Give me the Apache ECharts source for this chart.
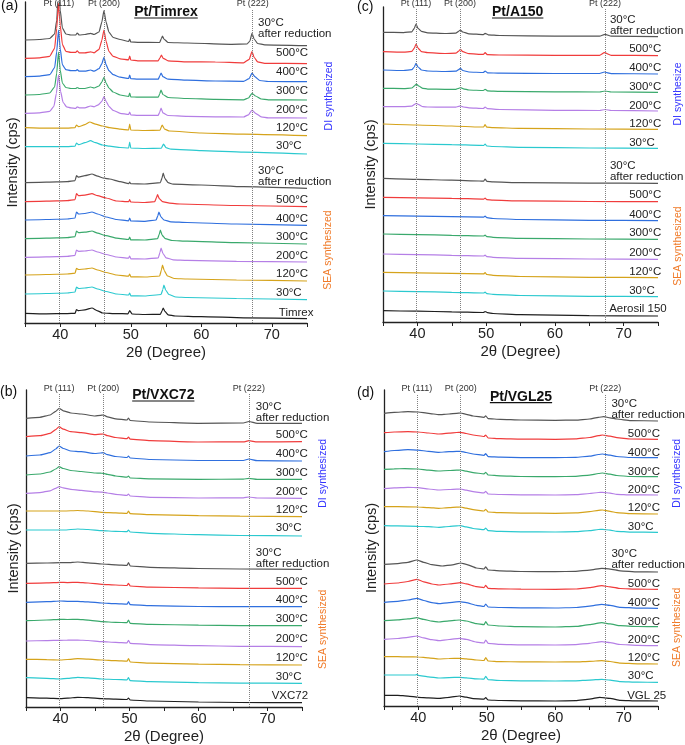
<!DOCTYPE html>
<html><head><meta charset="utf-8">
<script src="https://cdn.jsdelivr.net/npm/echarts/dist/echarts.min.js"></script>
<style>html,body{margin:0;padding:0;background:#fff}#c{width:685px;height:745px}</style>
</head><body><div id="c"></div>
<script>
// ---------------- DATA (2θ in degrees, intensity in a.u.) ----------------
const ptPeaks = [39.8, 46.2, 67.3];
const ptNames = ['Pt (111)', 'Pt (200)', 'Pt (222)'];
const tempNames = ['30°C\nafter reduction', '500°C', '400°C', '300°C', '200°C', '120°C', '30°C'];

// ---- (a) Pt/Timrex ----
const timrexOffsets = [283, 264.7, 246.3, 228, 209.7, 195.3, 176.3, 140.3, 121.3, 103, 84.3, 65.7, 48, 29, 9.7];
const a_DI_AR = [[35,0],[37,0.5],[38.5,1.5],[39.2,6],[39.5,20],[39.75,50],[40.0,30],[40.3,12],[40.8,6],[41.5,5],[42.2,5],[42.4,7],[42.7,5],[43.5,5.5],[44.3,6.7],[44.8,5.5],[45.5,8],[45.9,18],[46.2,29.3],[46.5,18],[46.9,8],[47.5,2.5],[48.5,0.5],[49.7,-1.5],[49.85,1],[50.0,-2],[51,-2.3],[54.1,-2.5],[54.35,1.5],[54.5,4],[54.7,1],[55.3,-2.5],[58,-3],[64.3,-4.3],[66.5,-4],[66.9,-1],[67.2,6.7],[67.5,1],[68,-3.5],[69,-4.8],[75,-5.7]];
const a_DI_500 = [[35,0],[37,0.5],[38.5,2],[39.2,10],[39.5,30],[39.75,55],[40.0,33],[40.3,14],[40.8,7],[41.5,6],[42.2,6],[42.4,7.5],[42.7,5.5],[43.5,5.5],[44.3,6.5],[44.8,5.5],[45.5,9],[45.9,18],[46.2,28.3],[46.5,17],[46.9,7],[47.5,2],[48.5,-0.5],[49.7,-1.5],[49.85,2.3],[50.0,-1.7],[51,-2.5],[53.9,-2.5],[54.15,0.5],[54.35,3.3],[54.6,0],[55.3,-2.5],[58,-3.5],[62,-3.7],[66,-4.5],[66.8,-1],[67.2,6.6],[67.5,1],[68,-3.5],[69,-5],[75,-5.4]];
const a_DI_400 = [[35,0],[37,0.5],[38.5,2],[39.2,9],[39.5,25],[39.75,46.7],[40.0,28],[40.3,12],[40.8,7],[41.5,6],[42.2,6],[42.4,7],[42.7,5.5],[43.5,5.5],[44.3,6.7],[44.8,5.5],[45.5,8],[45.9,13],[46.2,19.4],[46.5,12],[46.9,6],[47.5,2],[48.5,-0.5],[49.7,-1.8],[49.85,1.7],[50,-2],[51,-2.5],[53.9,-2.5],[54.1,0.5],[54.3,3.7],[54.55,0],[55.3,-2.5],[58,-3.5],[62,-4.3],[66,-4.6],[66.8,-2],[67.2,3.7],[67.6,0],[68.3,-3.8],[69.5,-4.8],[75,-5]];
const a_DI_300 = [[35,0],[37,0.5],[38.5,2],[39.2,8],[39.5,22],[39.75,43],[40.0,25],[40.3,12],[40.8,7.5],[41.5,6.5],[42.2,6.5],[42.4,7.5],[42.7,6.5],[43.5,6.5],[44.3,8],[44.8,7],[45.5,9],[45.9,13],[46.2,17.7],[46.5,12],[46.9,7],[47.5,3],[48.5,0],[49.7,-1.5],[49.85,2],[50,-1.8],[51,-2.2],[53.9,-2.2],[54.1,1],[54.3,5],[54.55,0.5],[55.3,-2.5],[58,-3.5],[62,-4.3],[66,-4.8],[66.7,-3],[67.2,1.7],[67.7,-1],[68.5,-4],[69.5,-4.8],[75,-5]];
const a_DI_200 = [[35,0],[37,0.5],[38.5,2],[39.1,7],[39.45,20],[39.75,38.3],[40.05,22],[40.4,11],[40.9,6.5],[41.5,5.5],[42.2,5],[42.4,6.5],[42.7,5.5],[43.5,5.5],[44.3,7.3],[44.8,6.5],[45.4,8.5],[45.9,12],[46.2,16.6],[46.5,12],[46.9,7],[47.5,3],[48.5,0],[49.7,-1.2],[49.85,1.3],[50,-1.5],[51,-2],[53.9,-2],[54.1,1],[54.3,5.3],[54.55,0.5],[55.3,-2.2],[58,-3],[62,-3.5],[66,-3.7],[66.7,-1.5],[67.2,3.3],[67.7,0],[68.5,-3.5],[69.5,-4.5],[75,-4.7]];
const a_DI_120 = [[35,0],[38,-0.5],[41,-0.5],[42.1,0],[42.3,2.7],[42.6,1],[43.5,3],[44.2,5.7],[45,3.5],[46,1.7],[47,0],[48.5,-1.5],[49.7,-2.3],[49.85,3.7],[50,-2.3],[52,-2.8],[54.15,-2.5],[54.45,2.7],[54.8,-1.5],[55.5,-3.3],[60,-5.3],[66,-6.5],[75,-8]];
const a_DI_30 = [[35,0],[38,0],[41,0],[42.1,0.5],[42.3,3.7],[42.6,2],[43.5,4],[44.3,6],[45,4],[46,1.7],[47,0.5],[48.5,-0.8],[49.7,-1.3],[49.85,4.7],[50,-1.3],[52,-1.8],[54.35,-1.5],[54.65,2.7],[55,-1],[55.7,-2.5],[60,-4],[66,-5.5],[75,-7.3]];
const a_SEA_AR = [[35,0],[38,0.5],[41,1],[42.1,2],[42.3,7],[42.6,5.5],[43.5,7],[44.5,8.7],[45.3,6.5],[46.2,4.5],[47,3.7],[48.5,1],[49.7,-1],[49.85,0.5],[50,-1],[52,-1.3],[54.2,0],[54.45,5],[54.6,9.7],[54.85,4],[55.3,0],[56,-1.5],[60,-2.3],[66,-4],[75,-5.6]];
const a_SEA_500 = [[35,0],[38,0.5],[41,1],[42.1,2],[42.3,8],[42.6,6],[43.5,6.5],[44.5,8],[45.3,6],[46.5,3.7],[48,0.7],[49.7,0],[49.85,2],[50,-0.3],[52,-0.8],[53.4,0],[53.65,4],[53.8,7],[54.05,3],[54.5,0],[55.5,-1.5],[57,-2.3],[65,-3.8],[75,-5]];
const a_SEA_400 = [[35,0],[38,0.5],[41,1],[42.1,2],[42.3,8],[42.6,6],[43.5,6.5],[44.5,8],[45.3,6],[46.5,3],[48,0.5],[49.7,-0.8],[49.85,2],[50,-1],[52,-1.3],[53.6,0],[53.85,4.5],[54.0,8],[54.25,3.5],[54.7,0],[55.7,-1.8],[58,-2.5],[65,-4],[75,-5.3]];
const a_SEA_300 = [[35,0],[38,0.5],[41,1],[42.1,2],[42.3,7.7],[42.6,6],[43.5,6.5],[44.5,7.7],[45.3,5.5],[46.5,3],[48,0.5],[49.7,-0.8],[49.85,1.7],[50,-1.2],[52,-1.3],[53.8,0],[54.05,4.5],[54.2,8.7],[54.45,3.5],[54.9,0],[55.9,-1.8],[58,-2.5],[65,-4],[75,-5.3]];
const a_SEA_200 = [[35,0],[38,0.5],[41,1],[42.1,2],[42.3,7.3],[42.6,6],[43.5,6.3],[44.5,7.3],[45.3,5.3],[46.5,2.8],[48,0.3],[49.7,-0.8],[49.85,1.3],[50,-1.5],[52,-1.7],[53.9,-0.5],[54.15,5],[54.3,9.3],[54.55,4],[55,-0.5],[56,-2.5],[58,-3],[65,-4],[75,-4.7]];
const a_SEA_120 = [[35,0],[38,0.5],[41,1],[42.1,1.8],[42.3,6.7],[42.6,5.5],[43.5,6],[44.5,7],[45.3,5],[46.5,2.5],[48,0],[49.7,-1.2],[49.85,1],[50,-1.8],[52,-2],[54.1,-1],[54.35,5],[54.5,10],[54.75,4.5],[55.2,-1],[56.2,-3.5],[58,-4],[65,-5],[75,-6]];
const a_SEA_30 = [[35,0],[38,0.5],[41,1],[42.1,2],[42.3,7],[42.6,5.5],[43.5,6],[44.5,7],[45.3,5],[46.5,2.5],[48,0],[49.7,-1],[49.85,1],[50,-1.8],[52,-2],[54.3,-0.5],[54.55,4.5],[54.7,9],[54.95,4],[55.4,-0.5],[56.4,-3],[58,-3.5],[65,-4.5],[75,-5.7]];
const a_Timrex = [[35,0],[38,-0.5],[41,-0.3],[42.1,0],[42.3,3.6],[42.6,2.6],[43.5,3.5],[44.5,5.3],[45.3,2.5],[46,0.3],[48,-0.3],[49.6,-0.5],[49.85,2.6],[50.2,-0.7],[52,-1.2],[54.2,-1],[54.45,2.5],[54.6,5.3],[54.85,2],[55.3,-1.5],[56.3,-2.7],[60,-3.3],[66,-4.5],[75,-5.4]];

// ---- (c) Pt/A150 ----
const a150Offsets = [289.7, 270.3, 252, 233.7, 215.3, 198, 178.7, 143.7, 124.7, 106.3, 88, 68, 49.7, 31, 11.3];
const c_DI_AR = [[35,0],[38,-0.3],[39.2,0.5],[39.55,4],[39.8,8.3],[40.1,4],[40.6,1],[41.5,-0.5],[44,-1.2],[45.6,-0.8],[46.0,1],[46.25,2.3],[46.6,0.3],[47.5,-1.5],[49.6,-2.3],[49.85,-1],[50.3,-2.5],[52,-3.2],[60,-3.8],[66.5,-3.8],[67.3,-2],[68.2,-3.8],[75,-4.4]];
const c_DI_500 = [[35,0],[38,-0.5],[39.2,0.3],[39.55,3.5],[39.8,7.7],[40.1,3.5],[40.6,0],[41.5,-1],[44,-1.8],[45.6,-1.5],[46.0,0.5],[46.25,2.4],[46.6,0],[47.5,-2],[49.6,-2.7],[49.85,-1],[50.2,-3],[52,-3.3],[60,-3.6],[66.5,-3.6],[67.2,-1],[68.2,-3.6],[75,-4]];
const c_DI_400 = [[35,0],[38,-0.5],[39.2,0.3],[39.55,3],[39.8,6.7],[40.1,3],[40.6,0],[41.5,-1],[44,-1.5],[45.6,-1.2],[46.0,0.3],[46.25,1.7],[46.6,-0.5],[47.5,-2],[49.6,-2.5],[49.85,-1],[50.2,-2.8],[52,-3.2],[60,-3.5],[66.5,-3.5],[67.2,-2],[68.2,-3.6],[75,-4]];
const c_DI_300 = [[35,0],[38,-0.3],[39.2,0.3],[39.6,2.5],[39.85,4.3],[40.2,2.3],[40.8,0],[41.5,-0.8],[44,-1],[45.6,-1],[46.0,0],[46.3,0.6],[46.7,-0.5],[47.5,-1.7],[49.6,-2.2],[49.85,-1],[50.2,-2.5],[52,-3],[60,-3.5],[66.5,-3.7],[67.3,-2.7],[68.2,-3.7],[75,-4]];
const c_DI_200 = [[35,0],[38,0],[39.2,0.5],[39.6,2.3],[39.85,3.4],[40.2,2],[40.8,0],[41.5,-0.3],[44,-0.5],[45.6,-0.5],[46.0,0.3],[46.3,0.7],[46.7,-0.3],[47.5,-1.2],[49.6,-1.8],[49.85,-0.3],[50.2,-2],[52,-2.8],[60,-3.6],[66.5,-3.8],[67.3,-2.8],[68.2,-3.8],[75,-4.3]];
const c_DI_120 = [[35,0],[40,-1],[45,-2],[49,-3],[49.65,-3],[49.85,-0.7],[50.1,-3.2],[51,-3.6],[55,-4.4],[65,-5],[75,-5.3]];
const c_DI_30 = [[35,0],[40,-0.7],[45,-1.3],[49,-2],[49.65,-2.2],[49.85,-0.7],[50.1,-2.7],[51,-3.2],[55,-4],[65,-4.7],[75,-5]];
const c_SEA_AR = [[35,0],[40,-1],[45,-1.9],[49,-2.7],[49.65,-2.8],[49.85,-0.7],[50.1,-3],[51,-3.6],[55,-4.4],[65,-4.8],[75,-5]];
const c_SEA_500 = [[35,0],[40,-0.5],[45,-1],[49.65,-1.8],[49.85,-0.8],[50.1,-2.3],[51,-2.9],[55,-3.6],[65,-4.2],[75,-4.4]];
const c_SEA_400 = [[35,0],[40,-0.4],[45,-0.9],[49.65,-1.5],[49.85,-0.3],[50.1,-2],[51,-2.8],[55,-3.8],[65,-4.6],[75,-5]];
const c_SEA_300 = [[35,0],[40,-0.6],[45,-1.3],[49.65,-2],[49.85,-1],[50.1,-2.6],[51,-3.3],[55,-4.3],[65,-5],[75,-5.3]];
const c_SEA_200 = [[35,0],[40,-0.6],[45,-1.3],[49.65,-2],[49.85,-1],[50.1,-2.6],[51,-3.3],[55,-4.3],[65,-5],[75,-5.3]];
const c_SEA_120 = [[35,0],[40,-0.5],[45,-1.1],[49.65,-1.6],[49.85,-0.3],[50.1,-2.2],[51,-3],[55,-4.2],[65,-5],[75,-5.4]];
const c_SEA_30 = [[35,0],[40,-0.6],[45,-1.3],[49.65,-2],[49.85,-1],[50.1,-2.6],[51,-3.4],[55,-4.5],[65,-5.3],[75,-5.7]];
const c_Aerosil = [[35,0],[40,-0.5],[45,-1.1],[49.6,-1.8],[49.85,-0.8],[50.2,-2],[51,-2.8],[55,-4],[65,-5],[75,-5.3]];

// ---- (b) Pt/VXC72 ----
const vxcOffsets = [288.7, 270.3, 251, 232, 213.7, 196, 177, 143.7, 123.7, 104.7, 86.3, 66, 47.7, 29.3, 9.3];
const b_DI_AR = [[35,0],[37,1],[38.5,3.3],[39.3,7],[39.8,10],[40.4,7.5],[41.5,5.3],[43,4.3],[45,2.3],[45.8,3],[46.2,3.3],[46.8,1.5],[48,-0.5],[49.65,-1.7],[49.85,0.3],[50.1,-2.2],[53,-3.7],[60,-5],[66.5,-4.7],[67.3,-3.2],[68.5,-5],[75,-5]];
const b_DI_500 = [[35,0],[37,1],[38.5,3.3],[39.3,7],[39.8,10],[40.4,7.5],[41.5,5],[43,4],[45,2],[45.8,2.5],[46.2,2.7],[46.8,1],[48,-0.8],[49.65,-2],[49.85,-0.3],[50.1,-2.5],[53,-4],[60,-5.3],[66.5,-5.2],[67.3,-4],[68.5,-5.2],[75,-5]];
const b_DI_400 = [[35,0],[37,1],[38.5,3.3],[39.3,7],[39.8,10],[40.4,7.5],[41.5,5],[43,4.3],[45,2.5],[45.8,3],[46.2,3.3],[46.8,1.3],[48,-0.5],[49.65,-1.5],[49.85,0],[50.1,-2],[53,-3.5],[60,-4.5],[66.5,-4.5],[67.3,-3],[68.5,-4.7],[75,-5]];
const b_DI_300 = [[35,0],[37,1],[38.5,3],[39.3,6],[39.8,8.3],[40.4,6.5],[41.5,4.5],[43,3.5],[45,2],[45.8,1.8],[46.2,1.7],[46.8,0.7],[48,-1],[49.65,-2.2],[49.85,-1],[50.1,-3],[53,-3.8],[60,-4.3],[66.5,-4.2],[67.3,-3.3],[68.5,-4.3],[75,-4.3]];
const b_DI_200 = [[35,0],[37,0.7],[38.5,2.5],[39.3,5],[39.8,6.6],[40.4,5.5],[41.5,4],[43,3],[45,1.5],[45.8,1.2],[46.2,1],[46.8,0.3],[48,-1],[49.65,-2],[49.85,-0.7],[50.1,-2.7],[53,-4],[60,-4.7],[66.5,-4.6],[67.3,-3.7],[68.5,-4.7],[75,-5]];
const b_DI_120 = [[35,0],[38,0],[40.5,0],[42.5,0.5],[44,0],[46,-1.3],[48,-1.8],[49.65,-2.3],[49.85,0],[50.1,-2.7],[53,-3.7],[60,-4.7],[66,-5.2],[75,-5.7]];
const b_DI_30 = [[35,0],[38,0],[40.5,0],[42.5,1],[44,0.5],[46,-0.7],[48,-1.3],[49.65,-1.7],[49.85,0],[50.1,-2],[53,-3.3],[60,-4.7],[66,-5.5],[75,-6]];
const b_SEA_AR = [[35,0],[38,0.3],[40,0.6],[41,0.6],[42.5,1.3],[44,0.5],[46,-0.7],[48,-1.5],[49.65,-2],[49.85,0.6],[50.1,-2.7],[53,-4],[60,-5.2],[66,-5.7],[75,-6]];
const b_SEA_500 = [[35,0],[38,0.5],[40,1],[41,0.7],[42.5,1],[44,0.3],[46,-1],[48,-1.7],[49.65,-2.2],[49.85,0],[50.1,-2.7],[53,-3.8],[60,-4.6],[66,-5],[75,-5]];
const b_SEA_400 = [[35,0],[38,0.6],[40,1.3],[41,1],[42.5,1],[44,0.4],[46,-0.7],[48,-1.3],[49.65,-1.8],[49.85,0.6],[50.1,-2.4],[53,-3.4],[60,-4.2],[66,-4.4],[75,-4.4]];
const b_SEA_300 = [[35,0],[38,0.7],[40,1.4],[41,1.2],[42.5,1.4],[44,0.6],[46,-1],[48,-1.6],[49.65,-2],[49.85,0.7],[50.1,-2.6],[53,-3.6],[60,-4.5],[66,-4.9],[75,-5]];
const b_SEA_200 = [[35,0],[38,0.4],[40,0.7],[41,0.8],[42.5,1],[44,0.5],[46,-0.7],[48,-1.3],[49.65,-1.8],[49.85,0.7],[50.1,-2.3],[53,-3.6],[60,-4.7],[66,-5.3],[75,-5.7]];
const b_SEA_120 = [[35,0],[38,-0.3],[40,-0.7],[41,-0.2],[42.5,0.6],[44,0.2],[46,-0.7],[48,-1.3],[49.65,-1.8],[49.85,0.6],[50.1,-2.7],[53,-3.8],[60,-4.8],[66,-5.4],[75,-5.7]];
const b_SEA_30 = [[35,0],[38,-0.6],[40,-1.3],[41,-0.7],[42.5,0.4],[44,-0.2],[46,-1.3],[48,-1.8],[49.65,-2.2],[49.85,0],[50.1,-3],[53,-4],[60,-4.9],[66,-5.4],[75,-5.6]];
const b_VXC72 = [[35,0],[38,-0.5],[40,-1],[41,-0.5],[42.5,0.4],[44,0],[46,-1],[48,-1.5],[49.65,-1.8],[49.85,-0.3],[50.1,-2.3],[53,-3.3],[60,-4.3],[66,-4.8],[75,-5]];

// ---- (d) Pt/VGL25 ----
const vglOffsets = [292.7, 273.3, 254.3, 236.7, 217.3, 199.3, 180.3, 141.7, 122, 103.7, 85.3, 66.7, 49.3, 31, 10.7];
const d_DI_AR = [[35,0],[36.5,1],[38.5,1.6],[40,1.3],[41.5,0],[43,-1.4],[44.5,-0.7],[45.6,0],[46.2,0.3],[47,-1],[48,-2.7],[49.6,-4],[49.85,-2.5],[50.2,-5.4],[52,-6],[55,-6.7],[60,-7],[63,-6.8],[65,-5.7],[66.3,-4],[67.1,-3.4],[68,-4.5],[69,-5.7],[71,-7.3],[75,-7.7]];
const d_DI_500 = [[35,0],[36.5,0.7],[38.5,1],[40,0.7],[41.5,-0.3],[43,-1.3],[44.5,-0.5],[45.6,0.2],[46.2,0.4],[47,-0.8],[48,-2.3],[49.6,-3.8],[49.85,-2.3],[50.2,-5.3],[52,-5.9],[55,-6.4],[60,-6.6],[63,-6.2],[65,-4.8],[66.3,-3],[66.9,-2.3],[68,-3.5],[69,-5],[71,-6.3],[75,-6.6]];
const d_DI_400 = [[35,0],[36.5,1.2],[38.5,2],[40,1.6],[41.5,0.3],[43,-0.6],[44.5,0],[45.6,0.3],[46.2,0.4],[47,-0.8],[48,-2.3],[49.6,-3.6],[49.85,-2],[50.2,-5],[52,-5.5],[55,-5.9],[60,-6],[63,-5.6],[65,-4.5],[66.3,-2.8],[66.9,-2.3],[68,-3.5],[69,-4.8],[71,-5.8],[75,-6]];
const d_DI_300 = [[35,0],[36.5,0.5],[38,0.6],[40,0.3],[41.5,-0.8],[43,-1.7],[44.5,-1.2],[45.6,-0.8],[46.2,-0.7],[47,-1.8],[48,-3.3],[49.6,-4.6],[49.85,-3],[50.2,-5.7],[52,-6.5],[55,-7.2],[60,-7.4],[63,-7],[65,-5.8],[66.3,-4.2],[66.9,-3.7],[68,-4.8],[69,-6.2],[71,-7.2],[75,-7.4]];
const d_DI_200 = [[35,0],[36.5,0.9],[38.5,1.4],[40,1],[41.5,-0.3],[43,-1.3],[44.5,-0.8],[45.6,-0.4],[46.2,-0.3],[47,-1.5],[48,-3],[49.6,-4.2],[49.85,-2.7],[50.2,-5.3],[52,-5.8],[55,-6.2],[60,-6.3],[63,-5.9],[65,-4.8],[66.3,-3.8],[66.9,-3.6],[68,-4.5],[69,-5.6],[71,-6.2],[75,-6.3]];
const d_DI_120 = [[35,0],[37,0],[40,-0.3],[41.5,-0.9],[43,-1.6],[44.5,-1],[45.6,-0.4],[46.2,-0.3],[47,-1.5],[48,-3],[49.6,-4.3],[49.85,-2.6],[50.2,-5.3],[52,-6],[55,-6.4],[60,-6.6],[63,-6.2],[65,-5],[66.3,-3.6],[66.9,-3.3],[68,-4.6],[69,-6],[71,-7],[75,-7.3]];
const d_DI_30 = [[35,0],[37,-0.2],[40,-0.6],[41.5,-1],[43,-1.6],[44.5,-0.8],[45.6,-0.1],[46.2,0],[47,-1.2],[48,-2.8],[49.6,-4],[49.85,-2.3],[50.2,-5],[52,-5.7],[55,-6.1],[60,-6.3],[63,-5.9],[65,-4.9],[66.3,-3.8],[66.9,-3.6],[68,-4.5],[69,-5.6],[71,-6.4],[75,-6.6]];
const d_SEA_AR = [[35,0],[37,0.7],[38.5,2],[39.8,4.3],[40.8,2],[42,-0.4],[43.5,-1.7],[45,-0.5],[46.2,1.3],[47,0],[48.5,-3.7],[49.6,-4.7],[49.85,-2.5],[50.2,-5.7],[52,-6.6],[55,-7.2],[60,-7.4],[63,-7],[65,-5.8],[66.8,-4],[68,-4.8],[69.5,-6.5],[72,-7.5],[75,-7.7]];
const d_SEA_500 = [[35,0],[37,1],[38.5,2.5],[39.8,4.7],[40.8,2.2],[42,0],[43,-1],[44.5,0],[46.2,1.3],[47,0.2],[48.5,-2.7],[49.6,-3.6],[49.85,-1.3],[50.2,-4.3],[52,-4.8],[55,-5.2],[60,-5.3],[63,-5],[65,-3.6],[66.8,-1.7],[68,-2.8],[69.5,-4.5],[72,-5.2],[75,-5.3]];
const d_SEA_400 = [[35,0],[37,1],[38.5,2.3],[39.8,4],[40.8,1.8],[42,-0.4],[43,-1.4],[44.5,-0.3],[46,0.6],[47,-0.3],[48.5,-3],[49.6,-4.2],[49.85,-1.7],[50.2,-4.7],[52,-5.2],[55,-5.6],[60,-5.7],[63,-5.2],[65,-3.8],[66.8,-2],[68,-3],[69.5,-5],[72,-5.8],[75,-6]];
const d_SEA_300 = [[35,0],[37,0.8],[38.5,1.8],[39.8,3],[40.8,1.3],[42,-0.4],[43,-1.3],[44.5,-0.2],[46,0.7],[47,-0.3],[48.5,-3],[49.6,-4],[49.85,-1],[50.2,-4.3],[52,-5.3],[55,-6],[60,-6.3],[63,-5.7],[65,-4],[66.8,-2],[68,-3.2],[69.5,-5],[72,-5.8],[75,-6]];
const d_SEA_200 = [[35,0],[37,0.8],[38.5,2],[39.8,3.3],[40.8,1.4],[42,-0.4],[43,-1.4],[44.5,-0.2],[46,1],[47,0],[48.5,-2.8],[49.6,-3.7],[49.85,-0.7],[50.2,-4],[52,-5],[55,-5.5],[60,-5.7],[63,-5.3],[65,-4],[66.8,-2.4],[68,-3.4],[69.5,-5.2],[72,-6.1],[75,-6.4]];
const d_SEA_120 = [[35,0],[37,0],[38.5,-0.2],[40,-0.3],[41.5,-1.2],[43,-2.3],[44.5,-1.8],[46,-1.6],[47,-2.2],[48.5,-3.3],[49.6,-3.8],[49.85,-1],[50.2,-4.3],[52,-4.9],[55,-5.2],[60,-5.3],[63,-5.2],[65,-4.6],[66.8,-4],[68,-4.8],[69.5,-6.4],[72,-7.1],[75,-7.3]];
const d_SEA_30 = [[35,0],[37,0],[39.6,0],[39.8,0.7],[40,-0.3],[41.5,-1.8],[43,-3],[44.5,-2.6],[46,-2.3],[47,-2.8],[48.5,-3.8],[49.6,-4.2],[49.85,-1.3],[50.2,-4.7],[52,-5.5],[55,-5.9],[60,-6],[63,-5.8],[65,-5.1],[66.8,-4.3],[68,-5.2],[69.5,-6.6],[72,-7.2],[75,-7.3]];
const d_VGL25 = [[35,0],[37,0],[38.5,-0.8],[40,-2],[41.5,-2.6],[43,-3],[44.5,-2],[46,-0.7],[47,-1.8],[48,-3.4],[49.6,-3.8],[49.85,-2.4],[50.2,-4.7],[52,-5.2],[55,-5.5],[60,-5.7],[63,-5.3],[65,-3.8],[66.5,-2],[68,-3],[69.5,-5],[72,-5.6],[75,-5.7]];

// ---------------- PANELS ----------------
const panels = [
  {title:'Pt/Timrex', letter:'(a)', support:'Timrex', di:'DI synthesized', offsets:timrexOffsets,
   profiles:[a_DI_AR,a_DI_500,a_DI_400,a_DI_300,a_DI_200,a_DI_120,a_DI_30,a_SEA_AR,a_SEA_500,a_SEA_400,a_SEA_300,a_SEA_200,a_SEA_120,a_SEA_30,a_Timrex]},
  {title:'Pt/A150', letter:'(c)', support:'Aerosil 150', di:'DI synthesize', offsets:a150Offsets,
   profiles:[c_DI_AR,c_DI_500,c_DI_400,c_DI_300,c_DI_200,c_DI_120,c_DI_30,c_SEA_AR,c_SEA_500,c_SEA_400,c_SEA_300,c_SEA_200,c_SEA_120,c_SEA_30,c_Aerosil]},
  {title:'Pt/VXC72', letter:'(b)', support:'VXC72', di:'DI synthesized', offsets:vxcOffsets,
   profiles:[b_DI_AR,b_DI_500,b_DI_400,b_DI_300,b_DI_200,b_DI_120,b_DI_30,b_SEA_AR,b_SEA_500,b_SEA_400,b_SEA_300,b_SEA_200,b_SEA_120,b_SEA_30,b_VXC72]},
  {title:'Pt/VGL25', letter:'(d)', support:'VGL 25', di:'DI synthesized', offsets:vglOffsets,
   profiles:[d_DI_AR,d_DI_500,d_DI_400,d_DI_300,d_DI_200,d_DI_120,d_DI_30,d_SEA_AR,d_SEA_500,d_SEA_400,d_SEA_300,d_SEA_200,d_SEA_120,d_SEA_30,d_VGL25]}
];

// ---------------- LAYOUT / STYLE ----------------
const FONT = '"Liberation Sans", Arial, sans-serif';
const traceColors = ['#555555','#f03c3c','#2f6fde','#3aa96c','#b57fe6','#d5a31b','#2bc9cf'];
const supportColor = '#1e1e1e';
const layout = [
  {left:25, top:2, width:282, height:321, lineTop:314, lx:[68.05,70.6,71.0],
   dy:[11.5,5,4.7,4.3,3.6,-0.3,0.7,6.7,1.7,1.3,1.4,1.3,1,1,0.6],
   titlePos:[166,12], letterPos:[1,6], diPos:[329,96], seaPos:[328,250]},
  {left:383, top:7, width:275, height:315, lineTop:313, lx:[68.0,70.8,67.9],
   dy:[6.8,2.4,1.7,1.3,1,-0.3,0.6,7,2,0.7,0.7,0.7,0.6,0.3,1.4],
   titlePos:[517.7,12], letterPos:[357,7], diPos:[677.7,94], seaPos:[677.7,246]},
  {left:26, top:390, width:276, height:317, lineTop:313, lx:[68.3,71.2,70.6],
   dy:[6.3,1.7,2,2.3,1.6,1,1.7,5.3,1.6,2.3,1.4,1.7,1,1,1.7],
   titlePos:[163.3,395], letterPos:[0,391.7], diPos:[323.3,473.3], seaPos:[323.3,629.3]},
  {left:384, top:390, width:274, height:316, lineTop:312, lx:[68.2,70.6,70.5],
   dy:[4.1,-1.3,-1,-2.4,-1.3,-1.6,-1.6,4.6,-0.3,-0.4,-1,-1,-1.6,-1.3,-0.7],
   titlePos:[521,396.7], letterPos:[357,393.3], diPos:[677.3,473.3], seaPos:[677.3,627.3]}
];

function colorFor(i){ return i === 14 ? supportColor : traceColors[i % 7]; }

const chart = echarts.init(document.getElementById('c'), null, {renderer:'canvas'});
const grid = layout.map(l => ({left:l.left, top:l.top, width:l.width, height:l.height}));
const xAxis = layout.map((l,i) => ({
  gridIndex:i, type:'value', min:35, max:75, interval:5,
  axisLine:{show:true, onZero:false, lineStyle:{color:'#222', width:1.3}},
  axisTick:{show:true, inside:false, length:4, lineStyle:{color:'#222', width:1}},
  axisLabel:{show:true, margin:4, fontSize:14.5, color:'#222', fontFamily:FONT,
    formatter: v => (v % 10 === 0 && v > 35 && v < 75) ? String(v) : ''},
  splitLine:{show:false},
  name:'2θ (Degree)', nameLocation:'middle', nameGap:22,
  nameTextStyle:{fontSize:15, color:'#222', fontFamily:FONT}
}));
const yAxis = layout.map((l,i) => ({
  gridIndex:i, type:'value', min:0, max:l.height,
  axisLine:{show:true, onZero:false, lineStyle:{color:'#222', width:1.3}},
  axisTick:{show:false}, axisLabel:{show:false}, splitLine:{show:false},
  name:'Intensity (cps)', nameLocation:'middle', nameGap:5,
  nameTextStyle:{fontSize:14.5, color:'#222', fontFamily:FONT}
}));

const series = [];
panels.forEach((p, pi) => {
  p.profiles.forEach((prof, ti) => {
    const off = p.offsets[ti];
    const s = {
      type:'line', xAxisIndex:pi, yAxisIndex:pi,
      data: prof.map(pt => [pt[0], off + pt[1]]),
      symbol:'none', showSymbol:false, smooth:0.15, smoothMonotone:'x',
      lineStyle:{color:colorFor(ti), width:1.2}, silent:true, animation:false, z:3
    };
    if (ti === 14) {
      s.markLine = {
        symbol:'none', silent:true, animation:false,
        lineStyle:{type:'dotted', color:'#808080', width:1},
        label:{show:true, position:'end', distance:1, fontSize:9, color:'#333', fontFamily:FONT,
               formatter: prm => prm.name},
        data: ptPeaks.map((x,k) => [{coord:[x,0], name:ptNames[k]}, {coord:[x, layout[pi].lineTop], name:ptNames[k]}])
      };
    }
    series.push(s);
  });
});

chart.setOption({animation:false, backgroundColor:'#fff', grid, xAxis, yAxis, series});

// ---------------- ANNOTATIONS ----------------
const mctx = document.createElement('canvas').getContext('2d');
function textW(str, font){ mctx.font = font; return mctx.measureText(str).width; }

const graphic = [];
function addText(x, y, text, opt){
  graphic.push(Object.assign({type:'text', x, y, silent:true, z:100,
    style:Object.assign({text, fill:'#222', font:'11.5px ' + FONT,
      align:'left', verticalAlign:'middle', textAlign:'left', textVerticalAlign:'middle'}, opt.style||{})}, opt.el||{}));
}

panels.forEach((p, pi) => {
  const L = layout[pi];
  const names = tempNames.concat(tempNames, [p.support]);
  names.forEach((nm, ti) => {
    const lx = (ti === 0 || ti === 7) ? L.lx[0] : (ti === 14 ? L.lx[2] : L.lx[1]);
    const pos = chart.convertToPixel({gridIndex:pi}, [lx, p.offsets[ti] + L.dy[ti]]);
    addText(pos[0], pos[1], nm, {style:{lineHeight:11}});
  });
  const tf = 'bold 14px ' + FONT;
  addText(L.titlePos[0], L.titlePos[1], p.title, {style:{font:tf, align:'center', textAlign:'center', fill:'#111'}});
  const w = textW(p.title, tf);
  graphic.push({type:'line', silent:true, z:100,
    shape:{x1:L.titlePos[0]-w/2, y1:L.titlePos[1]+6, x2:L.titlePos[0]+w/2, y2:L.titlePos[1]+6},
    style:{stroke:'#111', lineWidth:1.2}});
  addText(L.letterPos[0], L.letterPos[1], p.letter, {style:{font:'14px ' + FONT, fill:'#111'}});
  addText(L.diPos[0], L.diPos[1], p.di, {style:{font:'10.5px ' + FONT, fill:'#3535ff', align:'center', textAlign:'center'}, el:{rotation:Math.PI/2}});
  addText(L.seaPos[0], L.seaPos[1], 'SEA synthesized', {style:{font:'10.5px ' + FONT, fill:'#f07a28', align:'center', textAlign:'center'}, el:{rotation:Math.PI/2}});
});

chart.setOption({graphic});
</script></body></html>
